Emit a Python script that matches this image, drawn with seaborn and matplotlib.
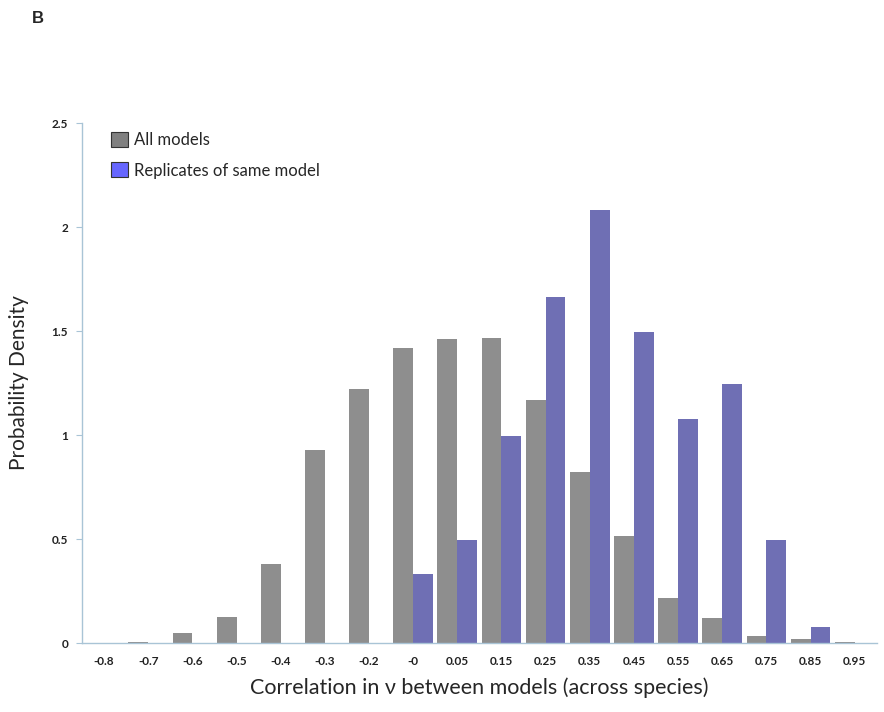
import pandas as pd
import matplotlib.pyplot as plt
import seaborn as sns
from matplotlib.patches import Patch
from matplotlib.ticker import FixedLocator

# bins and densities
bins = ["-0.8", "-0.7", "-0.6", "-0.5", "-0.4", "-0.3", "-0.2", "-0", "0.05",
        "0.15", "0.25", "0.35", "0.45", "0.55", "0.65", "0.75", "0.85", "0.95"]
all_models = [0.0, 0.005, 0.048, 0.125, 0.38, 0.93, 1.22, 1.42, 1.46,
              1.465, 1.17, 0.82, 0.515, 0.215, 0.12, 0.035, 0.02, 0.003]
replicates = [0.0, 0.0, 0.0, 0.0, 0.0, 0.0, 0.0, 0.33, 0.495,
              0.995, 1.665, 2.08, 1.495, 1.077, 1.245, 0.495, 0.077, 0.0]
groups = ["All models", "Replicates of same model"]

bar_colors = {"All models": "#8e8e8e", "Replicates of same model": "#6f6fb4"}
legend_colors = ["#808080", "#6666ff"]
axis_col = "#a9c4d6"

df = pd.concat([
    pd.DataFrame({"bin": bins, "density": all_models, "group": groups[0]}),
    pd.DataFrame({"bin": bins, "density": replicates, "group": groups[1]}),
], ignore_index=True)

sns.set_style("white")
plt.rcParams["font.family"] = ["Lato", "DejaVu Sans"]

fig = plt.figure(figsize=(8.84, 7.12), dpi=100)
ax = fig.add_axes([0.0928, 0.0969, 0.899, 0.7303])

sns.barplot(data=df, x="bin", y="density", hue="group", order=bins,
            hue_order=groups, palette=bar_colors, width=0.9, saturation=1,
            gap=0, linewidth=0, ax=ax, legend=False)

ax.set_xlim(-0.5, len(bins) - 0.5)
ax.set_ylim(0, 2.5)
ax.set_yticks([0, 0.5, 1, 1.5, 2, 2.5])
ax.set_yticklabels(["0", "0.5", "1", "1.5", "2", "2.5"], fontsize=8.5, fontweight="bold", color="#222")
ax.set_xticks(range(len(bins)))
ax.set_xticklabels(bins, fontsize=8.5, fontweight="bold", color="#222")
ax.xaxis.set_minor_locator(FixedLocator([i - 0.5 for i in range(len(bins) + 1)]))
ax.tick_params(axis="x", which="major", length=0, pad=9)
ax.tick_params(axis="x", which="minor", length=4, color=axis_col, width=0.8)
ax.tick_params(axis="y", which="major", length=4, color=axis_col, width=0.8, pad=6, left=True)

sns.despine(ax=ax, top=True, right=True)
for s in ["left", "bottom"]:
    ax.spines[s].set_color(axis_col)
    ax.spines[s].set_linewidth(1.0)

ax.set_xlabel("Correlation in ν between models (across species)", fontsize=15.5, labelpad=8)
ax.set_ylabel("Probability Density", fontsize=15, labelpad=16)

handles = [Patch(facecolor=c, edgecolor="#333", linewidth=0.8) for c in legend_colors]
ax.legend(handles, groups, loc="upper left", bbox_to_anchor=(0.022, 1.005),
          frameon=False, fontsize=12, handlelength=1.0, handleheight=1.0,
          handletextpad=0.35, labelspacing=0.85, borderaxespad=0.3)

fig.text(0.036, 0.985, "B", fontsize=12, fontweight="bold", family="Liberation Sans", va="top")

fig.savefig("out.png", dpi=100)
